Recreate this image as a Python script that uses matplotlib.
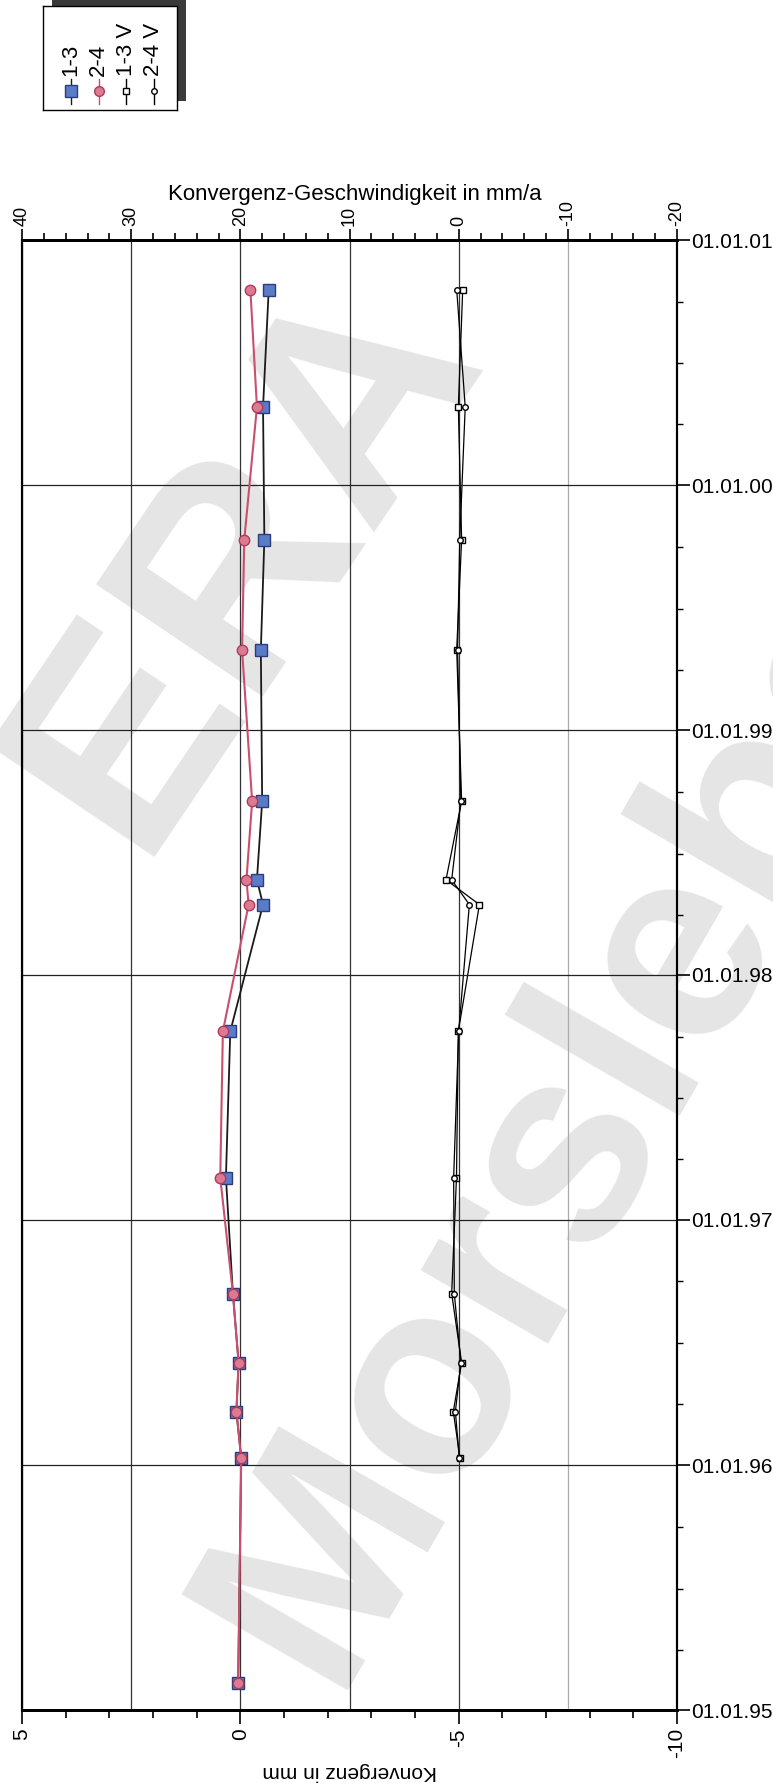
import pandas as pd
import matplotlib
matplotlib.use("Agg")
import matplotlib.pyplot as plt
import matplotlib.dates as mdates
from matplotlib.ticker import MultipleLocator
from matplotlib.patches import Rectangle

plt.rcParams['font.family'] = ['Liberation Sans', 'DejaVu Sans']
plt.rcParams['axes.unicode_minus'] = False

# measurement dates for the two convergence lines 1-3 / 2-4
dates_conv = pd.to_datetime([
    "1995-02-10", "1996-01-12", "1996-03-21", "1996-06-02", "1996-09-13",
    "1997-03-05", "1997-10-09", "1998-04-16", "1998-05-23", "1998-09-17",
    "1999-05-01", "1999-10-12", "2000-04-27", "2000-10-19",
])
# Konvergenz in mm (bottom axis)
conv_13 = [0.05, -0.02, 0.09, 0.04, 0.17, 0.33, 0.23, -0.52, -0.38, -0.50,
           -0.47, -0.55, -0.52, -0.65]
conv_24 = [0.05, -0.02, 0.09, 0.04, 0.17, 0.46, 0.40, -0.19, -0.14, -0.27,
           -0.04, -0.09, -0.38, -0.23]

# Konvergenz-Geschwindigkeit in mm/a (top axis)
dates_vel = dates_conv[1:]
vel_13 = [-0.12, 0.49, -0.27, 0.64, 0.20, 0.03, -1.90, 1.16, -0.27, 0.18,
          -0.27, 0.03, -0.37]
vel_24 = [-0.05, 0.30, -0.20, 0.40, 0.46, 0.00, -0.98, 0.64, -0.20, 0.10,
          -0.10, -0.60, 0.18]

legend_labels = ["1-3", "2-4", "1-3 V", "2-4 V"]

W, H = 773, 1788
fig = plt.figure(figsize=(W / 100, H / 100), dpi=100)

ax = fig.add_axes([22 / W, 78 / H, 655 / W, 1470 / H])
ax2 = ax.twiny()
# velocity axis underneath, so the colored lines sit on top of its grid
ax2.set_zorder(0)
ax.set_zorder(1)
ax.patch.set_visible(False)
ax2.patch.set_facecolor('white')

# watermark
ax2.text(245 / W, 1 - 560 / H, "ERA", transform=fig.transFigure, rotation=56,
         fontsize=210, fontweight='bold', color='#e5e5e5', ha='center',
         va='center', zorder=0, clip_on=False)
ax2.text(330 / W, 1 - 1690 / H, "Morsleben", transform=fig.transFigure,
         rotation=60, fontsize=200, fontweight='bold', color='#e5e5e5',
         ha='left', va='baseline', rotation_mode='anchor', zorder=0,
         clip_on=False)

# convergence series
ax.plot(conv_13, dates_conv, color='#1a1a1a', lw=1.3, marker='s', ms=8,
        mfc='#5a7cc8', mec='#2b3d7a', mew=1, zorder=3)
ax.plot(conv_24, dates_conv, color='#c8506e', lw=1.5, marker='o', ms=7.5,
        mfc='#dc7a92', mec='#b03a5a', mew=1, zorder=4)

# velocity series
ax2.plot(vel_13, dates_vel, color='black', lw=0.9, marker='s', ms=4.5,
         mfc='white', mec='black', mew=1, zorder=3)
ax2.plot(vel_24, dates_vel, color='black', lw=0.9, marker='o', ms=4,
         mfc='white', mec='black', mew=1, zorder=3)

# axes ranges and ticks
ax.set_xlim(5, -10)
ax2.set_xlim(40, -20)
ax.set_ylim(pd.Timestamp("1995-01-01"), pd.Timestamp("2001-01-01"))

ax.xaxis.set_major_locator(MultipleLocator(5))
ax.xaxis.set_minor_locator(MultipleLocator(1))
ax.tick_params(axis='x', which='major', direction='out', length=10, width=1.2,
               labelsize=15, labelrotation=90, pad=3)
ax.tick_params(axis='x', which='minor', direction='out', length=6, width=1.2)

ax2.xaxis.set_major_locator(MultipleLocator(10))
ax2.xaxis.set_minor_locator(MultipleLocator(2))
ax2.tick_params(axis='x', which='major', direction='out', length=8, width=1.2,
                labelsize=13, labelrotation=90, pad=2)
ax2.tick_params(axis='x', which='minor', direction='out', length=5, width=1.2)

ax.yaxis.set_major_locator(mdates.YearLocator())
ax.yaxis.set_minor_locator(mdates.MonthLocator(bymonth=[4, 7, 10]))
ax.yaxis.set_major_formatter(mdates.DateFormatter('%d.%m.%y'))
ax.yaxis.tick_right()
ax.tick_params(axis='y', which='major', direction='out', length=9, width=1.2,
               labelsize=15, pad=1)
ax.tick_params(axis='y', which='minor', direction='out', length=4, width=1)

# grid
ax.grid(axis='y', which='major', color='#222222', lw=0.9)
ax2.grid(axis='x', which='major', color='#333333', lw=0.9)
for tick_val, gl in zip(ax2.get_xticks(), ax2.get_xgridlines()):
    if tick_val == -10:
        gl.set_color('#aaaaaa')

for a in (ax, ax2):
    a.spines['top'].set_linewidth(2)
    a.spines['bottom'].set_linewidth(2)
    a.spines['left'].set_linewidth(1.5)
    a.spines['right'].set_linewidth(1.5)

fig.text(355 / W, 1 - 200 / H, "Konvergenz-Geschwindigkeit in mm/a",
         fontsize=16, ha='center', va='baseline')
fig.text(350 / W, 1 - 1772 / H, "Konvergenz in mm", fontsize=15,
         rotation=180, ha='center', va='center')

# legend box with shadow, entries rotated like the chart
fig.add_artist(Rectangle((52 / W, 1 - 101 / H), 134 / W, 101 / H,
                         transform=fig.transFigure, facecolor='#3a3a3a',
                         edgecolor='none', zorder=5))
lax = fig.add_axes([43 / W, 1 - 110 / H, 134 / W, 104 / H], zorder=6)
lax.set_xlim(0, 1)
lax.set_ylim(0, 1)
lax.set_xticks([])
lax.set_yticks([])
for s in lax.spines.values():
    s.set_linewidth(1)
styles = [
    dict(color='#1a1a1a', marker='s', ms=8, mfc='#5a7cc8', mec='#2b3d7a'),
    dict(color='#c8506e', marker='o', ms=7, mfc='#dc7a92', mec='#b03a5a'),
    dict(color='black', marker='s', ms=4.5, mfc='white', mec='black'),
    dict(color='black', marker='o', ms=4, mfc='white', mec='black'),
]
for i, (lab, st) in enumerate(zip(legend_labels, styles)):
    xc = 0.21 + i * 0.205
    lax.plot([xc, xc, xc], [0.06, 0.18, 0.30], lw=1, markevery=[1], **st)
    lax.text(xc, 0.33, lab, rotation=90, fontsize=16, ha='center', va='bottom')

fig.savefig("out.png", dpi=100)
